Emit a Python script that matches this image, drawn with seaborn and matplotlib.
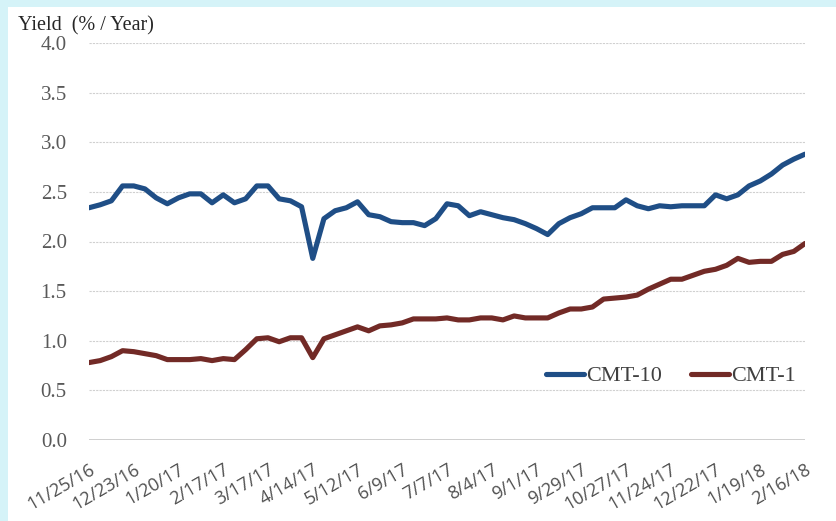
import pandas as pd
import numpy as np
import matplotlib.pyplot as plt
from matplotlib.patches import Rectangle
import seaborn as sns

sns.set_theme(style='white')

# Weekly yields, 11/25/16 .. 2/16/18 (65 weeks)
cmt10 = [2.34, 2.37, 2.41, 2.56, 2.56, 2.53, 2.44, 2.38, 2.44, 2.48,
         2.48, 2.39, 2.47, 2.39, 2.43, 2.56, 2.56, 2.43, 2.41, 2.35,
         1.83, 2.23, 2.31, 2.34, 2.40, 2.27, 2.25, 2.20, 2.19, 2.19,
         2.16, 2.23, 2.38, 2.36, 2.26, 2.30, 2.27, 2.24, 2.22, 2.18,
         2.13, 2.07, 2.18, 2.24, 2.28, 2.34, 2.34, 2.34, 2.42, 2.36,
         2.33, 2.36, 2.35, 2.36, 2.36, 2.36, 2.47, 2.43, 2.47, 2.56,
         2.61, 2.68, 2.77, 2.83, 2.88]
cmt1 = [0.78, 0.80, 0.84, 0.90, 0.89, 0.87, 0.85, 0.81, 0.81, 0.81,
        0.82, 0.80, 0.82, 0.81, 0.91, 1.02, 1.03, 0.99, 1.03, 1.03,
        0.83, 1.02, 1.06, 1.10, 1.14, 1.10, 1.15, 1.16, 1.18, 1.22,
        1.22, 1.22, 1.23, 1.21, 1.21, 1.23, 1.23, 1.21, 1.25, 1.23,
        1.23, 1.23, 1.28, 1.32, 1.32, 1.34, 1.42, 1.43, 1.44, 1.46,
        1.52, 1.57, 1.62, 1.62, 1.66, 1.70, 1.72, 1.76, 1.83, 1.79,
        1.80, 1.80, 1.87, 1.90, 1.98]
dates = pd.date_range('2016-11-25', periods=len(cmt10), freq='7D')
series_names = ['CMT-10', 'CMT-1']
colors = ['#1F4E86', '#722A26']

df = pd.DataFrame({'date': np.tile(dates, 2),
                   'yield': cmt10 + cmt1,
                   'series': np.repeat(series_names, len(dates))})

fig = plt.figure(figsize=(8.37, 5.21), dpi=100)
fig.patch.set_facecolor('#D5F3F8')
# white panel, leaving a cyan strip at the top and left
fig.add_artist(Rectangle((8 / 837, 0), 1, 1 - 7 / 521, transform=fig.transFigure,
                         facecolor='white', edgecolor='none', zorder=-5))

ax = fig.add_axes([89 / 837, 1 - 440 / 521, 716 / 837, 397 / 521])
ax.set_zorder(2)
ax.set_facecolor('white')
sns.lineplot(data=df, x='date', y='yield', hue='series', palette=colors,
             linewidth=3.7, ax=ax, legend=True)

yt = np.arange(0, 4.01, 0.5)
ax.set_ylim(0, 4.0)
ax.set_yticks(yt)
ax.set_yticklabels([f'{v:.1f}' for v in yt],
                   fontfamily='Liberation Serif', fontsize=15, color='#595959')
ax.set_xlim(dates[0], dates[-1])
tick_dates = dates[::4]
ax.set_xticks(tick_dates)
ax.set_xticklabels([f'{d.month}/{d.day}/{d.strftime("%y")}' for d in tick_dates],
                   rotation=30, ha='right', rotation_mode='anchor',
                   fontfamily='Open Sans', fontsize=13, color='#505050')
ax.tick_params(axis='y', length=0, pad=16)
ax.tick_params(axis='x', length=0, pad=15)

ax.grid(axis='y', color='#D0D0D0', linestyle=(0, (2, 1)), linewidth=0.8)
ax.axhline(0, color='#C8C8C8', linewidth=1.2, zorder=1)
for s in ax.spines.values():
    s.set_visible(False)

ax.set_xlabel('')
ax.set_ylabel('')
fig.text(18 / 837, 1 - 26 / 521, 'Yield  (% / Year)', fontfamily='Liberation Serif',
         fontsize=14.5, color='#262626', va='center', ha='left')

handles, labels = ax.get_legend_handles_labels()
ax.legend(handles, labels, loc='center right', bbox_to_anchor=(1.015, 0.161), ncol=2,
          frameon=False, handlelength=1.7, handletextpad=0.1, columnspacing=1.3,
          prop={'family': 'Liberation Serif', 'size': 16}, labelcolor='#404040')

fig.savefig('out.png', dpi=100, facecolor=fig.get_facecolor())
